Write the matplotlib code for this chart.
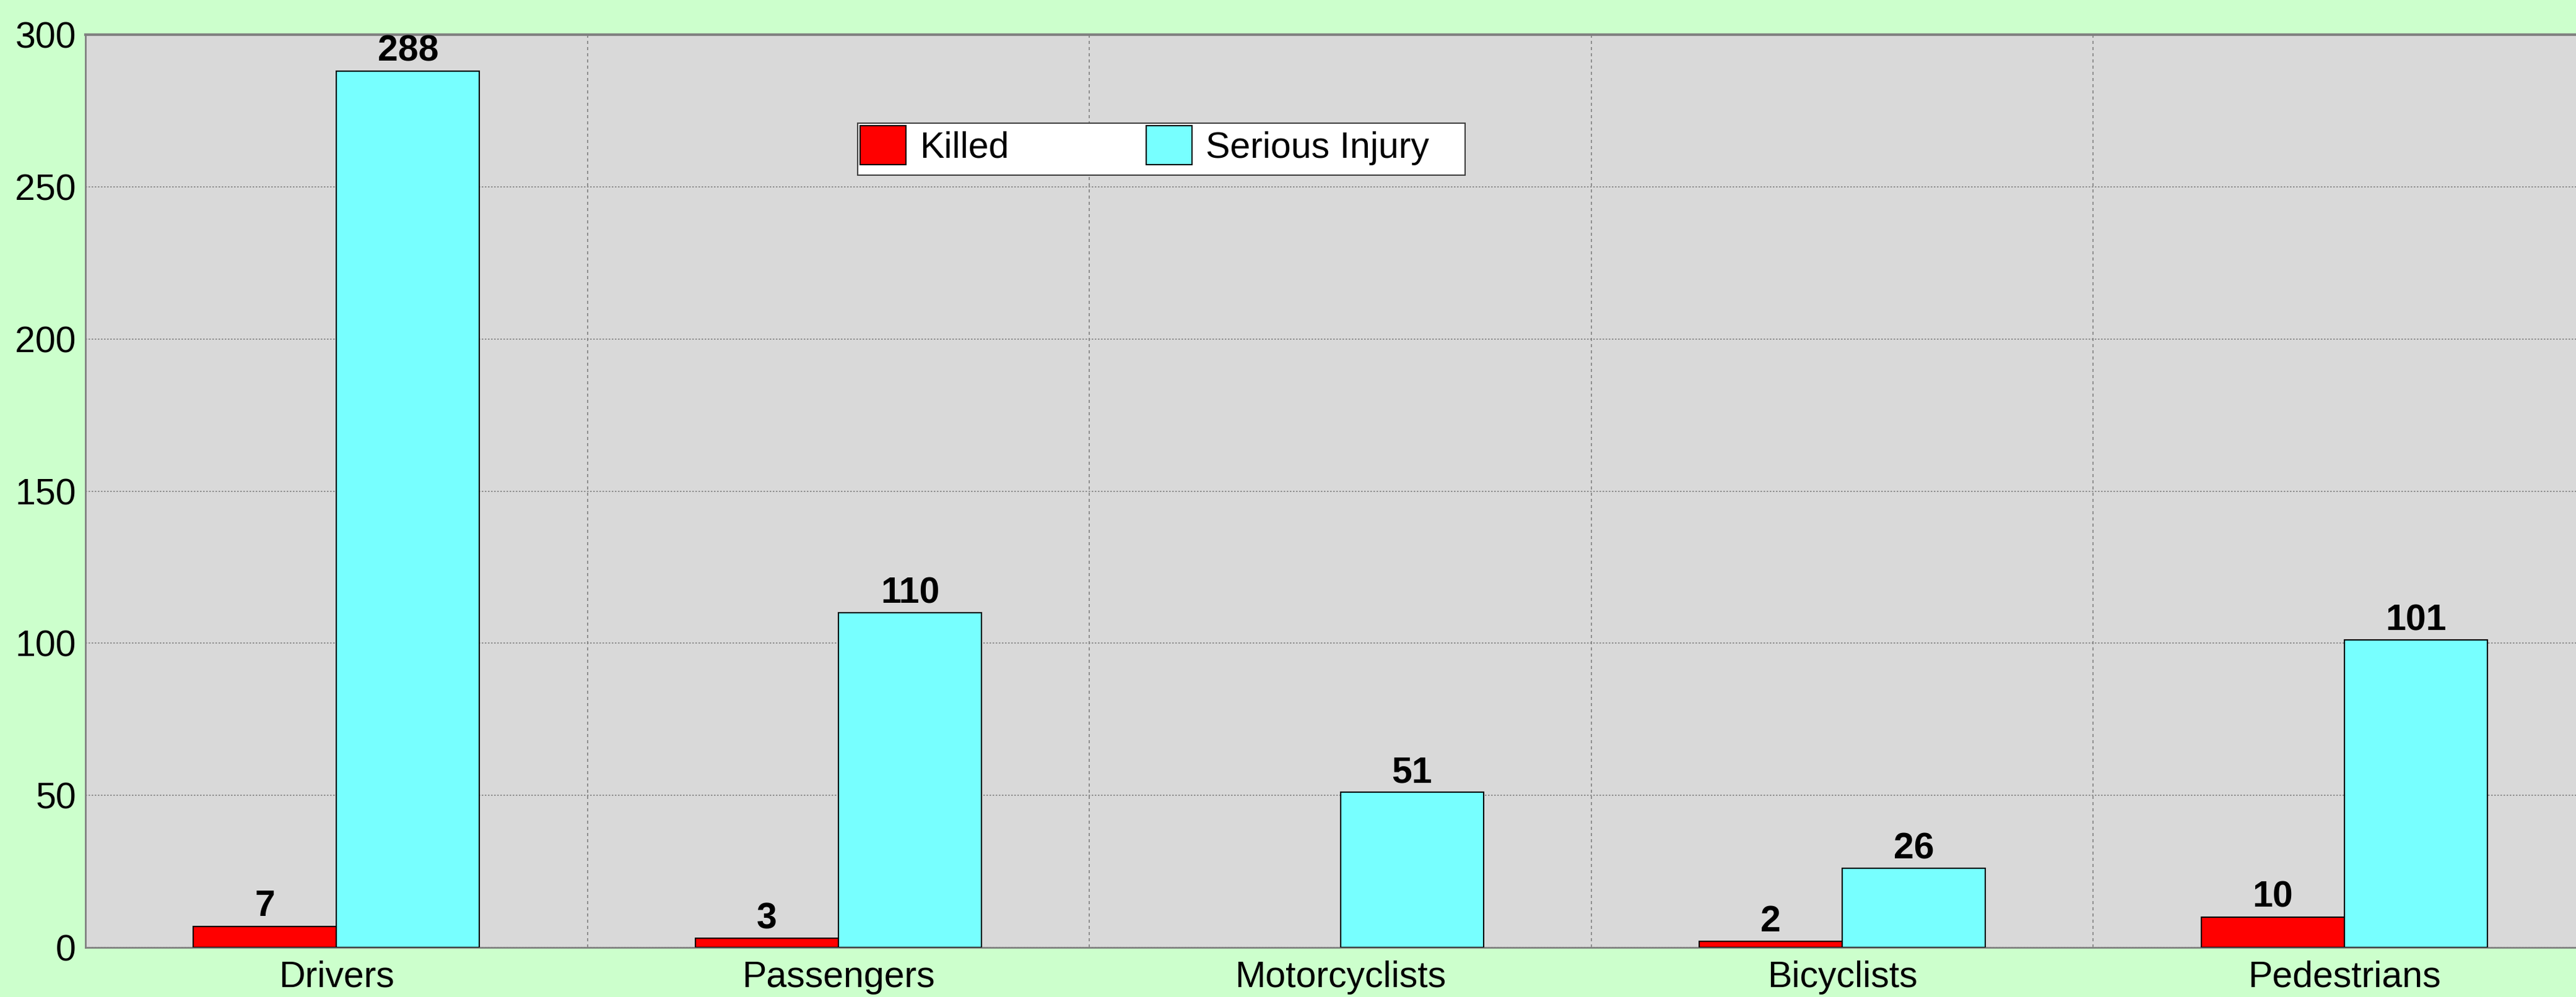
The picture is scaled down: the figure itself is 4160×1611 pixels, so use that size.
import matplotlib
matplotlib.use("Agg")
import matplotlib.pyplot as plt
from matplotlib.patches import Rectangle
import numpy as np

plt.rcParams['font.family'] = ['Liberation Sans', 'DejaVu Sans']

# ----- data -----
categories = ["Drivers", "Passengers", "Motorcyclists", "Bicyclists", "Pedestrians"]
killed = [7, 3, 0, 2, 10]
serious_injury = [288, 110, 51, 26, 101]
y_ticks = [0, 50, 100, 150, 200, 250, 300]

FS = 42.5

# ----- figure -----
W, H = 4160, 1611
fig = plt.figure(figsize=(W / 100, H / 100), dpi=100, facecolor="#CCFFCC")
# axes runs a bit past the right edge of the picture
ax = fig.add_axes([138 / W, 1 - 1531 / H, 4053 / W, (1531 - 56) / H])
ax.set_facecolor("#D9D9D9")

x = np.arange(len(categories))
w = 0.285
b1 = ax.bar(x - w / 2, killed, w, color="#FF0000", edgecolor="black", linewidth=1.5,
            label="Killed", zorder=3)
b2 = ax.bar(x + w / 2, serious_injury, w, color="#77FFFF", edgecolor="black", linewidth=1.5,
            label="Serious Injury", zorder=3)

# value labels (zero bars get no outline and no label)
for bars, vals in [(b1, killed), (b2, serious_injury)]:
    for rect, v in zip(bars, vals):
        if v == 0:
            rect.set_linewidth(0)
            continue
        ax.annotate(str(v), (rect.get_x() + rect.get_width() / 2, v),
                    xytext=(0, 3), textcoords="offset points",
                    ha="center", va="bottom", fontsize=FS, fontweight="bold", zorder=4)

ax.set_xlim(-0.5, len(categories) - 0.5)
ax.set_ylim(0, 300)
ax.set_yticks(y_ticks)
ax.set_xticks(x)
ax.set_xticklabels(categories)
ax.set_xticks(x[:-1] + 0.5, minor=True)
ax.tick_params(axis="both", which="both", length=0, labelsize=FS)
ax.tick_params(axis="y", pad=11)
ax.tick_params(axis="x", pad=15)

ax.grid(axis="y", which="major", color="#808080", linestyle=(0, (1.5, 1.5)), linewidth=1.2, zorder=1)
ax.grid(axis="x", which="minor", color="#808080", linestyle=(0, (3, 3)), linewidth=1.2, zorder=1)

for side, sp in ax.spines.items():
    sp.set_color("#808080")
    sp.set_linewidth(2)
ax.spines["top"].set_linewidth(3)

# legend box (pixel box 1385-2366 x 199-283)
def ax_frac(px, py):
    return (px - 138) / 4053, (1531 - py) / 1475

x0, y0 = ax_frac(1385, 283)
x1, y1 = ax_frac(2366, 199)
ax.add_patch(Rectangle((x0, y0), x1 - x0, y1 - y0, transform=ax.transAxes,
                       facecolor="white", edgecolor="#404040", linewidth=1.5, zorder=5))
leg = ax.legend(loc="upper left", bbox_to_anchor=(x0, y1), borderaxespad=0, ncol=2,
                fontsize=FS, frameon=False,
                handlelength=1.25, handleheight=1.27, handletextpad=0.38,
                columnspacing=3.75, borderpad=0.07)
leg.set_zorder(6)

fig.savefig("out.png", dpi=100, facecolor=fig.get_facecolor())
